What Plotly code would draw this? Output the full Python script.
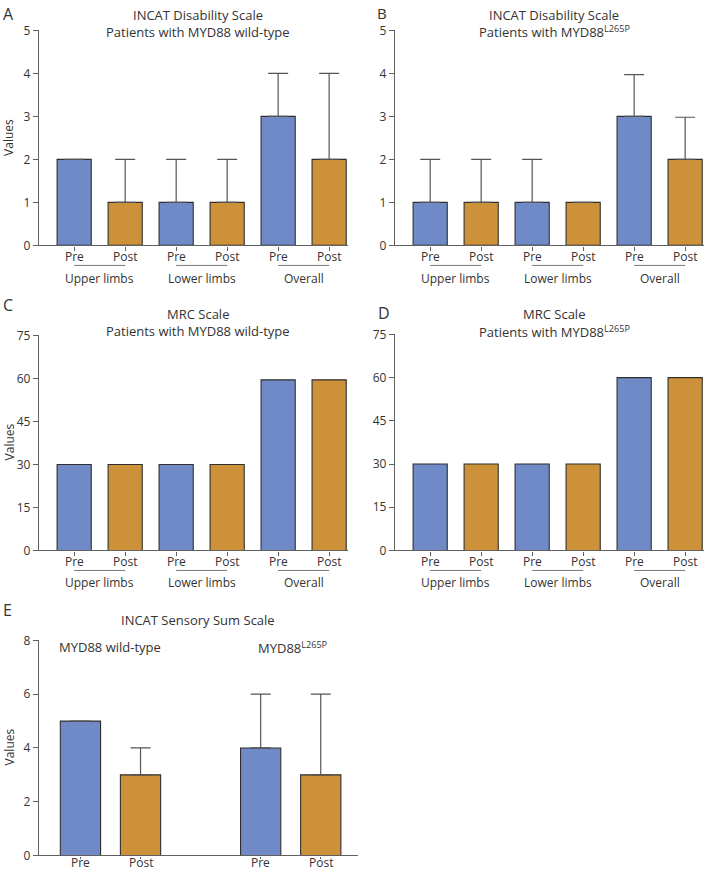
import plotly.graph_objects as go

W, H = 716, 880
FONT = "Open Sans"
TXT = "#333333"
AX = "#606060"
BLUE = "#6F8AC6"
ORANGE = "#CD913A"

# ---- data ----
phase_labels = ["Pre", "Post", "Pre", "Post", "Pre", "Post"]
group_labels = ["Upper limbs", "Lower limbs", "Overall"]

a_values = [2, 1, 1, 1, 3, 2]
a_err_top = [2, 2, 2, 2, 4, 4]

b_values = [1, 1, 1, 1, 3, 2]
b_err_top = [2, 2, 2, 1, 3.97, 2.98]

c_values = [30, 30, 30, 30, 59.5, 59.5]
d_values = [30, 30, 30, 30, 60, 60]

e_labels = ["Pre", "Post", "Pre", "Post"]
e_values = [5, 3, 4, 3]
e_err_top = [5, 4, 6, 6]
e_groups = ["MYD88 wild-type", "MYD88<sup>L265P</sup>"]

bar_colors6 = [BLUE, ORANGE] * 3
bar_colors4 = [BLUE, ORANGE] * 2

# the photographed page is drawn slightly squeezed vertically; map target
# picture rows to page rows
Y0, SY = 8.6, 0.9806


def pg(y):
    return (y - Y0) / SY


def px(x):
    return x / W


def py(y):
    return 1 - pg(y) / H


def py_raw(p):
    return 1 - p / H


fig = go.Figure()
layout = dict(
    width=W, height=H, margin=dict(l=0, r=0, t=0, b=0),
    paper_bgcolor="white", plot_bgcolor="white", showlegend=False,
    font=dict(family=FONT, color=TXT, size=12),
    annotations=[], shapes=[],
)


def ann(text, x, y, size=12, xref="paper", textangle=0, xanchor="center",
        raw=False):
    layout["annotations"].append(dict(
        text=text, x=x, y=py_raw(y) if raw else py(y), xref=xref, yref="paper",
        showarrow=False, xanchor=xanchor, yanchor="middle", textangle=textangle,
        font=dict(size=size, color=TXT, family=FONT)))


def add_panel(idx, xs, values, err_top, colors, ticktext, xdom, ydom, xrange,
              yrange, dtick, label_y, xticklen=4):
    xa = "x" if idx == 1 else f"x{idx}"
    ya = "y" if idx == 1 else f"y{idx}"
    err = None
    if err_top is not None:
        plus = [t - v for t, v in zip(err_top, values)]
        err = dict(type="data", symmetric=False, array=plus,
                   arrayminus=[0] * len(values), color="#555555",
                   thickness=1.2, width=10)
    fig.add_trace(go.Bar(
        x=xs, y=values, xaxis=xa, yaxis=ya, width=0.67,
        marker=dict(color=colors, line=dict(color="#2f2f2f", width=1.1)),
        error_y=err, hoverinfo="skip",
    ))
    key = "xaxis" if idx == 1 else f"xaxis{idx}"
    ykey = "yaxis" if idx == 1 else f"yaxis{idx}"
    layout[key] = dict(
        domain=[px(xdom[0]), px(xdom[1])], range=xrange, anchor=ya,
        tickvals=xs, showticklabels=False, ticks="outside", ticklen=xticklen,
        tickcolor=AX, tickwidth=1, showline=True, linecolor=AX, linewidth=1.3,
        showgrid=False, zeroline=False, fixedrange=True,
    )
    layout[ykey] = dict(
        domain=[py(ydom[1]), py(ydom[0])], range=yrange, anchor=xa,
        tick0=0, dtick=dtick, ticks="outside", ticklen=5, tickcolor=AX,
        tickwidth=1, showline=True, linecolor=AX, linewidth=1.3,
        showgrid=False, zeroline=False, fixedrange=True,
        tickfont=dict(size=12, color=TXT, family=FONT),
    )
    for xv, t in zip(xs, ticktext):
        ann(t, xv, label_y, xref=xa)


def group_marks(xa, y_line, y_text):
    for g, name in enumerate(group_labels):
        layout["shapes"].append(dict(
            type="line", xref=xa, yref="paper", x0=2 * g, x1=2 * g + 1,
            y0=py(y_line), y1=py(y_line), line=dict(color="#777777", width=1)))
        ann(name, 2 * g + 0.5, y_text, xref=xa)


xs6 = [0, 1, 2, 3, 4, 5]
xr6 = [-0.69, 5.37]

# Panel A
add_panel(1, xs6, a_values, a_err_top, bar_colors6, phase_labels,
          (39, 348), (30, 245), xr6, [0, 5], 1, 256)
# Panel B
add_panel(2, xs6, b_values, b_err_top, bar_colors6, phase_labels,
          (395, 704), (30, 245), xr6, [0, 5], 1, 256)
# Panel C
add_panel(3, xs6, c_values, None, bar_colors6, phase_labels,
          (39, 348), (335, 550), xr6, [0, 75], 15, 561)
# Panel D
add_panel(4, xs6, d_values, None, bar_colors6, phase_labels,
          (395, 704), (334, 550), xr6, [0, 75], 15, 561)
# Panel E
xs4 = [0, 1, 3, 4]
add_panel(5, xs4, e_values, e_err_top, bar_colors4, e_labels,
          (39, 358), (640, 855), [-0.69, 4.62], [0, 8], 2, 862.5, xticklen=2)

group_marks("x", 265, 278)
group_marks("x2", 265, 278)
group_marks("x3", 570, 582)
group_marks("x4", 570, 582)

# titles (top ones sit at the very edge of the page)
ann("INCAT Disability Scale", px(198), 6, size=13, raw=True)
ann("Patients with MYD88 wild-type", px(198), 23.2, size=13, raw=True)
ann("INCAT Disability Scale", px(554), 6, size=13, raw=True)
ann("Patients with MYD88<sup>L265P</sup>", px(554), 23.2, size=13, raw=True)
ann("MRC Scale", px(198), 313.8, size=13)
ann("Patients with MYD88 wild-type", px(198), 331, size=13)
ann("MRC Scale", px(554), 313.8, size=13)
ann("Patients with MYD88<sup>L265P</sup>", px(554), 331, size=13)
ann("INCAT Sensory Sum Scale", px(198), 620, size=13)
ann(e_groups[0], px(110), 647, size=13)
ann(e_groups[1], px(292), 647, size=13)

# panel letters
ann("A", px(1), 5, size=16, xanchor="left", raw=True)
ann("B", px(375), 4, size=15, xanchor="left", raw=True)
ann("C", px(1), 305, size=16, xanchor="left")
ann("D", px(376), 313, size=16, xanchor="left")
ann("E", px(1), 610, size=16, xanchor="left")

# y axis titles
ann("Values", px(9), 137.5, size=12, textangle=-90)
ann("Values", px(9), 442, size=12, textangle=-90)
ann("Values", px(9), 747, size=12, textangle=-90)

fig.update_layout(**layout)
pin = ("document.documentElement.style.margin='0';"
       "document.body.style.margin='0';"
       "var d=document.getElementById('{plot_id}');"
       "d.style.position='fixed';d.style.top='0px';d.style.left='0px';")
fig.write_html("out.html", config={"displayModeBar": False}, post_script=pin)
